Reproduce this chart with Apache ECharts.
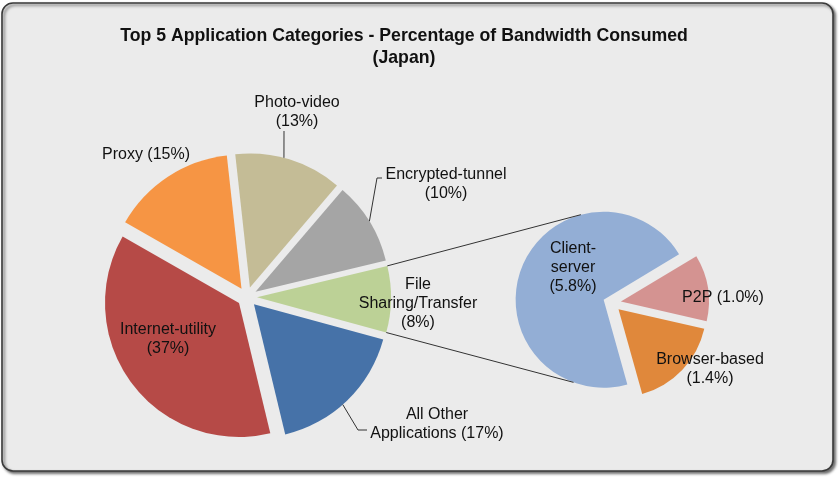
<!DOCTYPE html>
<html>
<head>
<meta charset="utf-8">
<script src="https://cdn.jsdelivr.net/npm/echarts@6/dist/echarts.min.js"></script>
<style>
  html, body { margin: 0; padding: 0; background: #fff; }
  #chart { width: 839px; height: 479px; }
</style>
</head>
<body>
<div id="chart"></div>
<script>
// main pie, listed clockwise starting with the slice that is split out
const mainNames = ['File Sharing/Transfer', 'All Other Applications', 'Internet-utility', 'Proxy', 'Photo-video', 'Encrypted-tunnel']
const mainValues = [8, 17, 37, 15, 13, 10]
const mainLabels = ['File\nSharing/Transfer\n(8%)', 'All Other\nApplications (17%)', 'Internet-utility\n(37%)', 'Proxy (15%)', 'Photo-video\n(13%)', 'Encrypted-tunnel\n(10%)']

// second pie: breakdown of File Sharing/Transfer
const subNames = ['P2P', 'Browser-based', 'Client-server']
const subValues = [1.0, 1.4, 5.8]
const subLabels = ['P2P (1.0%)', 'Browser-based\n(1.4%)', 'Client-\nserver\n(5.8%)']

const mainColors = ['#bcd196', '#4672a8', '#b64a47', '#f69544', '#c4bc96', '#a5a5a5']
const subColors = ['#d49391', '#e0883b', '#93aed5']

const FONT = 'Liberation Sans, Arial, sans-serif'
const MAIN = { cx: 247, cy: 297, r: 134, offset: 10, start: 13.5 }
const SUB = { cx: 612, cy: 303, r: 88, offset: 9, start: 31 }

// centre of each label's text block
const labelSpots = {
  'File Sharing/Transfer': [418, 304],
  'All Other Applications': [437, 424],
  'Internet-utility': [168, 339],
  'Proxy': [146, 155],
  'Photo-video': [297, 112],
  'Encrypted-tunnel': [446, 184],
  'P2P': [723, 298],
  'Browser-based': [710, 369],
  'Client-server': [573, 268],
}
// leader lines: start on the slice arc at `angle`, then go through the bend points
const leaders = [
  { name: 'Photo-video', angle: 75.3, bends: [[284, 131]] },
  { name: 'Encrypted-tunnel', angle: 31.8, bends: [[377, 178], [382, 178]] },
  { name: 'All Other Applications', angle: -48.5, bends: [[358, 430], [367, 430]] },
]

const rad = (d) => (d * Math.PI) / 180
const sum = (arr) => arr.reduce((a, b) => a + b, 0)

// exploded centre and edge angles of slice idx
function sliceGeo(geo, values, idx) {
  const total = sum(values)
  let a = geo.start
  for (let i = 0; i < idx; i++) a -= (values[i] / total) * 360
  const span = (values[idx] / total) * 360
  const mid = a - span / 2
  return {
    ex: geo.cx + geo.offset * Math.cos(rad(mid)),
    ey: geo.cy - geo.offset * Math.sin(rad(mid)),
    a1: a,
    a2: a - span,
  }
}
const onArc = (s, r, ang) => [s.ex + r * Math.cos(rad(ang)), s.ey - r * Math.sin(rad(ang))]

function buildData(names, values, colors) {
  return names.map((name, i) => ({
    name,
    value: values[i],
    selected: true,
    itemStyle: { color: colors[i] },
  }))
}

const fs = sliceGeo(MAIN, mainValues, 0)
const cs = sliceGeo(SUB, subValues, 2)
const connectors = [
  [onArc(fs, MAIN.r, fs.a1), onArc(cs, SUB.r, 105)],
  [onArc(fs, MAIN.r, fs.a2), onArc(cs, SUB.r, -110)],
]

const lineStyle = { stroke: '#333', lineWidth: 1, fill: null }
const graphics = [
  {
    type: 'rect',
    silent: true,
    z: -10,
    shape: { x: 2, y: 3, width: 831, height: 468, r: 11 },
    style: {
      fill: '#ebebeb',
      stroke: '#3a3a3a',
      lineWidth: 1.6,
      shadowBlur: 3,
      shadowOffsetX: 2,
      shadowOffsetY: 2,
      shadowColor: 'rgba(0,0,0,0.55)',
    },
  },
]
connectors.forEach((pts) => {
  graphics.push({ type: 'polyline', silent: true, z: 5, shape: { points: pts }, style: lineStyle })
})
leaders.forEach((ld) => {
  const s = sliceGeo(MAIN, mainValues, mainNames.indexOf(ld.name))
  graphics.push({
    type: 'polyline',
    silent: true,
    z: 5,
    shape: { points: [onArc(s, MAIN.r, ld.angle)].concat(ld.bends) },
    style: lineStyle,
  })
})
function pushLabels(names, labels) {
  names.forEach((name, i) => {
    const p = labelSpots[name]
    graphics.push({
      type: 'text',
      silent: true,
      z: 10,
      x: p[0],
      y: p[1],
      style: {
        text: labels[i],
        fill: '#111',
        font: '16px ' + FONT,
        lineHeight: 19,
        align: 'center',
        verticalAlign: 'middle',
      },
    })
  })
}
pushLabels(mainNames, mainLabels)
pushLabels(subNames, subLabels)

const baseSeries = {
  type: 'pie',
  silent: true,
  selectedMode: 'multiple',
  clockwise: true,
  avoidLabelOverlap: false,
  emphasis: { disabled: true, scale: false },
  label: { show: false },
  labelLine: { show: false },
}

const option = {
  animation: false,
  backgroundColor: '#ffffff',
  title: {
    text: 'Top 5 Application Categories - Percentage of Bandwidth Consumed\n(Japan)',
    left: 399,
    top: 20,
    textAlign: 'center',
    textStyle: { fontFamily: FONT, fontSize: 17.7, fontWeight: 'bold', color: '#111', lineHeight: 22 },
  },
  graphic: graphics,
  series: [
    Object.assign({}, baseSeries, {
      name: 'main',
      center: [MAIN.cx, MAIN.cy],
      radius: MAIN.r,
      startAngle: MAIN.start,
      selectedOffset: MAIN.offset,
      data: buildData(mainNames, mainValues, mainColors),
    }),
    Object.assign({}, baseSeries, {
      name: 'sub',
      center: [SUB.cx, SUB.cy],
      radius: SUB.r,
      startAngle: SUB.start,
      selectedOffset: SUB.offset,
      data: buildData(subNames, subValues, subColors),
    }),
  ],
}

const chart = echarts.init(document.getElementById('chart'))
chart.setOption(option)
</script>
</body>
</html>
